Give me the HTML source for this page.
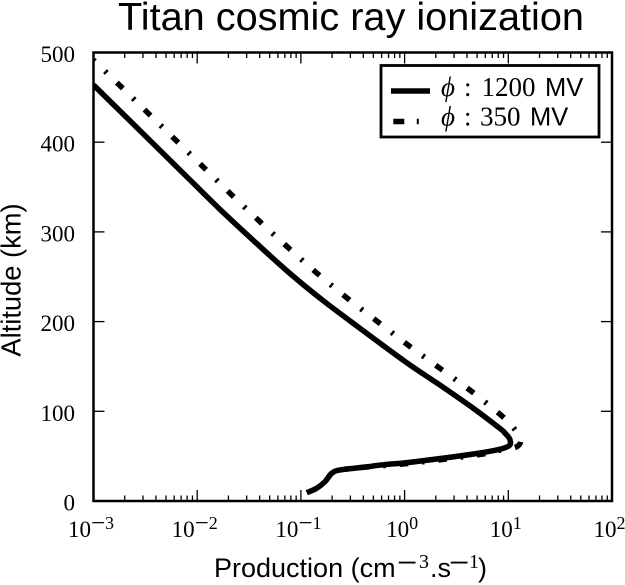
<!DOCTYPE html>
<html>
<head>
<meta charset="utf-8">
<style>
html,body{margin:0;padding:0;background:#fff;width:625px;height:585px;overflow:hidden}
svg{display:block}
.tick-label{font-family:"Liberation Serif",serif;font-size:23px;fill:#000}
.sans{font-family:"Liberation Sans",sans-serif;fill:#000}
.serif{font-family:"Liberation Serif",serif;fill:#000}
</style>
</head>
<body>
<svg id="chart" width="625" height="585" viewBox="0 0 625 585" xmlns="http://www.w3.org/2000/svg">
  <defs><clipPath id="plot-clip"><rect x="93.5" y="52.5" width="518.5" height="448.5"/></clipPath></defs>
  <text class="sans" x="351" y="30" font-size="38.5" text-anchor="middle" textLength="466" lengthAdjust="spacingAndGlyphs">Titan cosmic ray ionization</text>
  <g id="series" clip-path="url(#plot-clip)"></g>
  <g id="ticks"></g>
  <rect x="93.5" y="52.5" width="518.5" height="448.5" fill="none" stroke="#000" stroke-width="2.5"/>
  <g id="labels"></g>
  <text class="sans" font-size="27.3" text-anchor="middle" transform="translate(20.5,280) rotate(-90)">Altitude (km)</text>
  <text class="sans" font-size="27" y="577"><tspan x="214">Production (cm</tspan><tspan class="serif" font-size="36" x="397" y="574.5">−</tspan><tspan class="serif" font-size="20" x="419" y="568">3</tspan><tspan x="430" y="577">.s</tspan><tspan class="serif" font-size="36" x="449" y="574.5">−</tspan><tspan class="serif" font-size="20" x="469" y="568">1</tspan><tspan x="478" y="577">)</tspan></text>
  <g>
    <rect x="381" y="65.5" width="218" height="71.5" fill="#fff" stroke="#000" stroke-width="2.8"/>
    <line x1="391" x2="430" y1="91" y2="91" stroke="#000" stroke-width="5.5"/>
    <line x1="393.3" x2="419" y1="121.5" y2="121.5" stroke="#000" stroke-width="5.5" stroke-dasharray="11 12.5 2 14"/>
    <text class="serif" y="96" font-size="27"><tspan font-style="italic" x="441">ϕ</tspan><tspan x="464">:</tspan><tspan x="481.5">1200</tspan><tspan class="sans" font-size="25.5" x="545">MV</tspan></text>
    <text class="serif" y="125.5" font-size="27"><tspan font-style="italic" x="441">ϕ</tspan><tspan x="464">:</tspan><tspan x="480">350</tspan><tspan class="sans" font-size="25.5" x="530">MV</tspan></text>
  </g>
</svg>
<script>
const altitude1200 = [463.8,401.8,357.9,321.9,286.7,253.6,223.5,192.5,154,129.3,103.7,80.8,75.8,68,60.2,53.5,43.5,40.6,37.6,34.6,30.9,21.5,14.2,9.3];
const production1200 = [0.001,0.00351,0.00853,0.01774,0.03776,0.0785,0.1633,0.3715,1.054,2.19,4.56,8.32,9.27,10.4,9.7,5.33,1.2,0.647,0.4,0.2382,0.1982,0.1706,0.1419,0.1138];
const altitude350 = [491.6,461.2,431.4,401.3,370.5,341.2,311,281.7,253,225.2,198.8,172.8,146.8,121.2,94,78,68,60,55.7,51.8,42.4,37.6,34.6,30.9,21.5,14.2,9.3];
const production350 = [0.001,0.00187,0.00343,0.00634,0.01189,0.02153,0.0406,0.0767,0.1462,0.2864,0.566,1.109,2.26,4.54,8.83,11.86,13.2,11.8,7.4,5.3,1.2,0.4,0.2382,0.1982,0.1706,0.1419,0.1138];
const xDecades = [-3,-2,-1,0,1,2];
const yTicks = [0,100,200,300,400,500];
const minorMultiples = [2,3,4,5,6,7,8,9];

const NS = 'http://www.w3.org/2000/svg';
const plotLeft = 93.5, plotRight = 612, plotTop = 52.5, plotBottom = 501;
function xScale(v){ return plotLeft + (Math.log10(v) + 3) / 5 * (plotRight - plotLeft); }
function yScale(a){ return plotBottom - a / 500 * (plotBottom - plotTop); }

function smoothPath(xs, ys){
  const p = xs.map((x, i) => [xScale(x), yScale(ys[i])]);
  let d = 'M' + p[0][0].toFixed(2) + ' ' + p[0][1].toFixed(2);
  for (let i = 0; i < p.length - 1; i++) {
    const a = p[Math.max(i - 1, 0)], b = p[i], c = p[i + 1], e = p[Math.min(i + 2, p.length - 1)];
    const c1x = b[0] + (c[0] - a[0]) / 6, c1y = b[1] + (c[1] - a[1]) / 6;
    const c2x = c[0] - (e[0] - b[0]) / 6, c2y = c[1] - (e[1] - b[1]) / 6;
    d += 'C' + [c1x, c1y, c2x, c2y, c[0], c[1]].map(n => n.toFixed(2)).join(' ');
  }
  return d;
}

const seriesGroup = document.getElementById('series');
const line350 = document.createElementNS(NS, 'path');


line350.setAttribute('d', smoothPath(production350, altitude350));
line350.setAttribute('fill', 'none');
line350.setAttribute('stroke', '#000');
line350.setAttribute('stroke-width', '5.5');
line350.setAttribute('stroke-dasharray', '8.5 14 2.5 13.8');
line350.setAttribute('stroke-dashoffset', '6.5');
seriesGroup.appendChild(line350);

const line1200 = document.createElementNS(NS, 'path');


line1200.setAttribute('d', smoothPath(production1200, altitude1200));
line1200.setAttribute('fill', 'none');
line1200.setAttribute('stroke', '#000');
line1200.setAttribute('stroke-width', '5.5');
seriesGroup.appendChild(line1200);

const tickGroup = document.getElementById('ticks');
function addTick(x1, y1, x2, y2){
  const t = document.createElementNS(NS, 'line');
  
  
  t.setAttribute('x1', x1);
  t.setAttribute('y1', y1);
  t.setAttribute('x2', x2);
  t.setAttribute('y2', y2);
  t.setAttribute('stroke', '#000');
  t.setAttribute('stroke-width', '1.3');
  tickGroup.appendChild(t);
}
xDecades.forEach(dec => {
  const x = xScale(Math.pow(10, dec));
  addTick(x, plotBottom, x, plotBottom - 11);
  addTick(x, plotTop, x, plotTop + 11);
  if (dec < 2) minorMultiples.forEach(m => {
    const mx = xScale(m * Math.pow(10, dec));
    addTick(mx, plotBottom, mx, plotBottom - 5.5);
    addTick(mx, plotTop, mx, plotTop + 5.5);
  });
});
yTicks.forEach(a => {
  const y = yScale(a);
  addTick(plotLeft, y, plotLeft + 11, y);
  addTick(plotRight, y, plotRight - 11, y);
});

const labelGroup = document.getElementById('labels');
yTicks.forEach(a => {
  const t = document.createElementNS(NS, 'text');
  
  
  t.setAttribute('class', 'tick-label');
  t.setAttribute('x', 75);
  t.setAttribute('y', yScale(a) + 9.5);
  t.setAttribute('text-anchor', 'end');
  t.textContent = String(a);
  labelGroup.appendChild(t);
});
xDecades.forEach(dec => {
  const t = document.createElementNS(NS, 'text');
  
  
  t.setAttribute('class', 'tick-label');
  t.setAttribute('x', xScale(Math.pow(10, dec)) - 2.5);
  t.setAttribute('y', 537);
  t.setAttribute('text-anchor', 'middle');
  const base = document.createElementNS(NS, 'tspan');
  base.textContent = '10';
  t.appendChild(base);
  if (dec < 0) {
    const minus = document.createElementNS(NS, 'tspan');
    minus.setAttribute('dy', '-6');
    minus.setAttribute('font-size', '25');
    minus.textContent = '\u2212';
    t.appendChild(minus);
  }
  const exp = document.createElementNS(NS, 'tspan');
  exp.setAttribute('dy', dec < 0 ? '-2' : '-8');
  exp.setAttribute('font-size', '18');
  exp.textContent = String(Math.abs(dec));
  t.appendChild(exp);
  labelGroup.appendChild(t);
});
</script>
</body>
</html>
